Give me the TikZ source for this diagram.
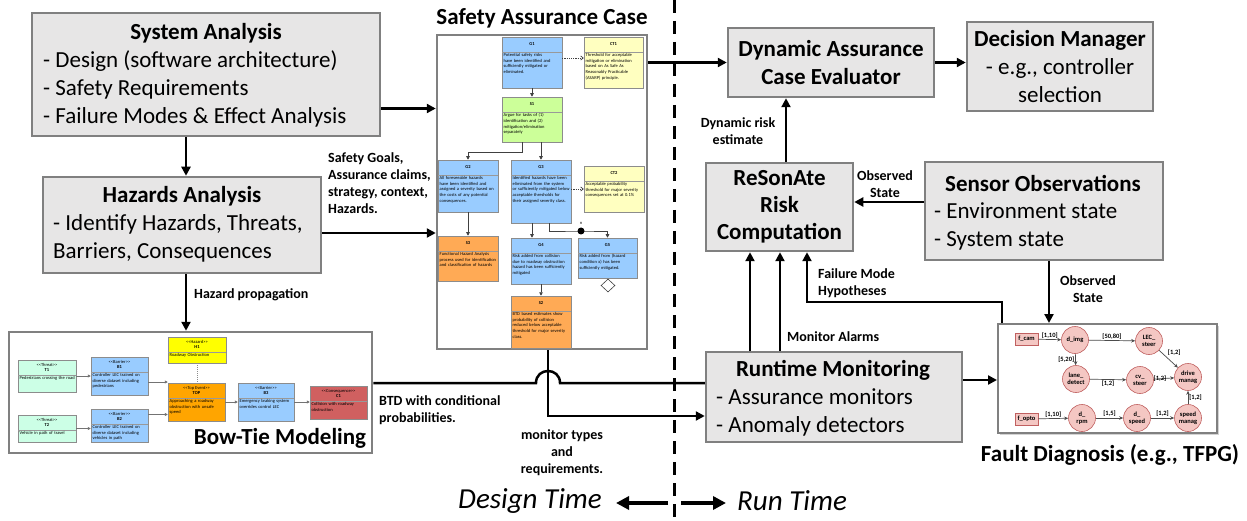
\documentclass[tikz,border=0pt]{standalone}
\usepackage{fontspec}
\setmainfont{Carlito}
\usetikzlibrary{arrows.meta,calc,shapes.geometric,shadows}
\definecolor{boxfill}{HTML}{E7E6E6}
\definecolor{boxline}{HTML}{808080}
\definecolor{gsnblue}{HTML}{99CCFF}
\definecolor{gsnyellow}{HTML}{FFFFC0}
\definecolor{gsngreen}{HTML}{CCFF99}
\definecolor{gsnorange}{HTML}{FFAA55}
\definecolor{btmint}{HTML}{CCFFE6}
\definecolor{btorange}{HTML}{FFA500}
\definecolor{btyellow}{HTML}{FFFF00}
\definecolor{btred}{HTML}{D06060}
\definecolor{tfpgfill}{HTML}{F4C7C3}
\definecolor{tfpgline}{HTML}{C06060}
\newcommand\myLL{<\kern0pt<}
\newcommand\myGG{>\kern0pt>}
% name, x1, y1, x2, y2, fill, header, text, header height
\newcommand\elbox[9]{%
  \node[el, fill=#6, minimum width={#4-#2}, minimum height={#5-#3}] (#1) at ({(#2+#4)/2},{(#3+#5)/2}) {};
  \node[elhead] (#1h) at ({(#2+#4)/2},{#3+#9/2}) {#7};
  \draw[elsep] (#2,{#3+#9}) -- (#4,{#3+#9});
  \node[eltext, text width={#4-#2-3}, anchor=north west] (#1t) at ({#2+1.5},{#3+#9+1}) {#8};
}
\begin{document}
\begin{tikzpicture}[x=1pt,y=-1pt,
  gbox/.style={draw=boxline, fill=boxfill, line width=2.5pt, inner sep=0pt},
  wbox/.style={draw=boxline, fill=white, line width=2.5pt, inner sep=0pt},
  big/.style={font=\fontsize{23}{28}\selectfont, inner sep=0pt},
  bigb/.style={font=\bfseries\fontsize{23}{28}\selectfont, inner sep=0pt},
  lab/.style={font=\bfseries\fontsize{14}{17}\selectfont, inner sep=0pt},
  arr/.style={line width=2.5pt, -{Triangle[length=9pt,width=9pt]}},
  plainline/.style={line width=2.5pt},
  bigarr/.style={line width=4pt, -{Triangle[length=13pt,width=13pt]}},
  el/.style={draw=black!45, line width=0.5pt, inner sep=0pt},
  elhead/.style={font=\fontsize{4.5}{5.5}\selectfont, inner sep=0pt, align=center},
  eltext/.style={font=\fontsize{4.5}{5.8}\selectfont, inner sep=0pt, align=left,
    execute at begin node={\hyphenpenalty=10000\exhyphenpenalty=10000}},
  elsep/.style={draw=black!40, line width=0.4pt},
  garr/.style={draw=black!75, line width=0.8pt, -{Triangle[length=3.5pt,width=3.5pt]}},
  gdash/.style={draw=black!75, line width=0.7pt, dash pattern=on 1.2pt off 1pt, -{Straight Barb[length=2.5pt,width=4pt]}},
  barr/.style={draw=black!55, line width=0.6pt, -{Triangle[length=3pt,width=3pt]}},
  tf/.style={circle, draw=tfpgline, fill=tfpgfill, line width=0.6pt, minimum size=27pt, inner sep=0pt, align=center, font=\bfseries\fontsize{6.5}{7}\selectfont},
  tfr/.style={rectangle, draw=tfpgline, fill=tfpgfill, line width=0.6pt, minimum width=23pt, minimum height=12pt, inner sep=0pt, font=\bfseries\fontsize{6.5}{7}\selectfont},
  tfa/.style={draw=black!70, line width=0.7pt, -{Stealth[length=4pt,width=3.5pt]}},
  tfl/.style={font=\bfseries\fontsize{6.5}{7}\selectfont, inner sep=1pt},
]
\useasboundingbox (0,0) rectangle (1247,521);

% design/run time separator
\draw[line width=3pt, dash pattern=on 13pt off 8pt] (674,0) -- (674,521);

% ---------- left column ----------
\node[gbox, minimum width=348, minimum height=123] (sa) at (206,74.5) {};
\node[bigb] (sat) at (206,33) {System Analysis};
\node[big, align=left, anchor=west] (sal) at (43,89) {- Design (software architecture)\\- Safety Requirements\\- Failure Modes \& Effect Analysis};

\node[gbox, minimum width=278, minimum height=96] (ha) at (182,225) {};
\node[bigb] (hat) at (182,196) {Hazards Analysis};
\node[big, align=left, anchor=west] (hal) at (53,238) {- Identify Hazards, Threats,\\Barriers, Consequences};

% ---------- bow-tie ----------
\node[wbox, minimum width=363, minimum height=121] (bt) at (190.5,392.5) {};
\node[bigb] (btl) at (280,438) {Bow-Tie Modeling};
\elbox{t1}{18}{360}{76}{392}{btmint}{\myLL Threat\myGG\\\textbf{T1}}{Pedestrians crossing the road}{15}
\elbox{t2}{18}{415}{76}{442}{btmint}{\myLL Threat\myGG\\\textbf{T2}}{Vehicle in path of travel}{15}
\elbox{b1}{91}{357}{148}{395}{gsnblue}{\myLL Barrier\myGG\\\textbf{B1}}{Controller LEC trained on diverse dataset including pedestrians}{15}
\elbox{b2}{91}{409}{148}{442}{gsnblue}{\myLL Barrier\myGG\\\textbf{B2}}{Controller LEC trained on diverse dataset including vehicles in path}{15}
\elbox{top}{168}{383}{225}{421}{btorange}{\myLL Top Event\myGG\\\textbf{TOP}}{Approaching a roadway obstruction with unsafe speed}{15}
\elbox{h1}{168}{337}{226}{363}{btyellow}{\myLL Hazard\myGG\\\textbf{H1}}{Roadway Obstruction}{15}
\elbox{b3}{238}{383}{294}{421}{gsnblue}{\myLL Barrier\myGG\\\textbf{B3}}{Emergency braking system overrides control LEC}{15}
\elbox{c1}{310}{386}{367}{419}{btred}{\myLL Consequence\myGG\\\textbf{C1}}{Collision with roadway obstruction}{15}
\draw[barr] (t1.east) -- (t1.east -| b1.west);
\draw[barr] ([yshift=-6pt]b1.east) -- ([yshift=-6pt]b1.east -| top.west);
\draw[barr] (t2.east) -- (t2.east -| b2.west);
\draw[barr] ([yshift=11pt]b2.east) -- ([yshift=11pt]b2.east -| top.west);
\draw[barr] (top.east) -- (top.east -| b3.west);
\draw[barr] (b3.east) -- (b3.east -| c1.west);
\draw[draw=black!45, line width=0.6pt, dash pattern=on 1pt off 1pt] (h1.south) -- (h1.south |- top.north);

% ---------- safety assurance case ----------
\node[wbox, minimum width=210, minimum height=314] (sac) at (542,192) {};
\node[bigb] (sact) at (542,18) {Safety Assurance Case};
\elbox{g1}{502}{37}{562}{88}{gsnblue}{\textbf{G1}}{Potential safety risks have been identified and sufficiently mitigated or eliminated.}{15}
\elbox{ct1}{584}{37}{643}{88}{gsnyellow}{\textbf{CT1}}{Threshold for acceptable mitigation or elimination based on As Safe As Reasonably Practicable (ASARP) principle.}{15}
\elbox{s1}{502}{97}{562}{142}{gsngreen}{\textbf{S1}}{Argue for tasks of (1) identification and (2) mitigation/\allowbreak elimination separately}{15}
\elbox{g2}{438}{160}{498}{212}{gsnblue}{\textbf{G2}}{All foreseeable hazards have been identified and assigned a severity based on the costs of any potential consequences.}{15}
\elbox{g3}{511}{160}{571}{223}{gsnblue}{\textbf{G3}}{Identified hazards have been eliminated from the system or sufficiently mitigated below acceptable thresholds for their assigned severity class.}{15}
\elbox{ct2}{584}{166}{644}{212}{gsnyellow}{\textbf{CT2}}{Acceptable probability threshold for major severity consequences set at 0.1\%}{15}
\elbox{s3}{438}{236}{498}{281}{gsnorange}{\textbf{S3}}{Functional Hazard Analysis process used for identification and classification of hazards}{15}
\elbox{g4}{511}{238}{571}{284}{gsnblue}{\textbf{G4}}{Risk added from collision due to roadway obstruction hazard has been sufficiently mitigated}{15}
\elbox{g5}{578}{238}{637}{278}{gsnblue}{\textbf{G5}}{Risk added from (hazard condition x) has been sufficiently mitigated.}{15}
\elbox{s2}{511}{296}{571}{348}{gsnorange}{\textbf{S2}}{BTD based estimates show probability of collision reduced below acceptable threshold for major severity class.}{15}
\node[diamond, draw=black!75, fill=white, line width=0.6pt, minimum width=14pt, minimum height=13pt, inner sep=0pt] (g5d) at (608,285.5) {};
\coordinate (sj) at (468,152);
\coordinate (jn) at (581,231);
\draw[gdash] ([yshift=4.5pt]g1.east) -- ([yshift=4.5pt]g1.east -| ct1.west);
\draw[garr] (g1.south) -- (s1.north);
\draw[garr] ([xshift=-10pt]s1.south) |- (sj) -- (g2.north);
\draw[garr] (s1.south -| g3.north) -- (g3.north);
\draw[garr] (g2.south) -- (s3.north);
\draw[gdash] (g3.east |- ct2.west) -- (ct2.west);
\draw[garr] ([xshift=-9pt]g3.south) -- ([xshift=-9pt]g3.south |- g4.north);
\draw[garr] ([xshift=8pt]g3.south) |- (jn) -| (g5.north);
\fill (jn) circle (3.5pt);
\node[font=\fontsize{4.5}{5}\selectfont, inner sep=0pt] (nlab) at (581,223) {n};
\draw[garr] (g4.south) -- (s2.north);

% ---------- labels on the left ----------
\node[lab, align=left, anchor=west] (lsg) at (328,183) {Safety Goals,\\Assurance claims,\\strategy, context,\\Hazards.};
\node[lab, anchor=west] (lhp) at (194,295) {Hazard propagation};
\node[lab, align=left, anchor=west] (lbtd) at (379,410) {BTD with conditional\\probabilities.};
\node[lab, align=center] (lmt) at (562,452.5) {monitor types\\and\\requirements.};

\coordinate (c1a) at ([yshift=-34pt]sa.east);
\coordinate (c2a) at ([yshift=-8pt]ha.east);
\coordinate (c3a) at ([xshift=4pt]ha.north);
\coordinate (c4a) at ([xshift=4pt]ha.south);
\draw[arr] (c1a) -- (c1a -| sac.west);
\draw[arr] (c2a) -- (c2a -| sac.west);
\draw[arr] (c3a |- sa.south) -- (c3a);
\draw[arr] (c4a) -- (c4a |- bt.north);

% ---------- right side ----------
\node[gbox, minimum width=206, minimum height=69, bigb, align=center] (dace) at (831,62.5) {Dynamic Assurance\\Case Evaluator};
\node[gbox, minimum width=186, minimum height=89, big, align=center] (dm) at (1060,66.5) {\textbf{Decision Manager}\\- e.g., controller\\selection};
\node[gbox, minimum width=147, minimum height=88, font=\bfseries\fontsize{23}{27}\selectfont, align=center] (rs) at (779.5,207) {ReSonAte\\Risk\\Computation};
\node[gbox, minimum width=238, minimum height=98] (so) at (1044,211) {};
\node[bigb] (sot) at (1043,183) {Sensor Observations};
\node[big, align=left, anchor=west] (sol) at (934,226) {- Environment state\\- System state};
\node[gbox, minimum width=256, minimum height=90] (rm) at (834,397) {};
\node[bigb] (rmt) at (833,370) {Runtime Monitoring};
\node[big, align=left, anchor=west] (rml) at (716,412) {- Assurance monitors\\- Anomaly detectors};

\node[draw=boxline, fill=white, line width=2pt, minimum width=219, minimum height=109, drop shadow={shadow xshift=2pt, shadow yshift=-2pt, opacity=0.35}] (fd) at (1107.5,378.5) {};
\node[bigb] (fdl) at (1110,455) {Fault Diagnosis (e.g., TFPG)};

% TFPG
\node[tfr] (fcam) at (1026.5,339) {f\_cam};
\node[tf] (dimg) at (1075,340) {d\_img};
\node[tf] (lec) at (1149,341) {LEC\_\\steer};
\node[tf] (lane) at (1076,379) {lane\_\\detect};
\node[tf] (cv) at (1140,380) {cv\_\\steer};
\node[tf] (drive) at (1188,377) {drive\\manag};
\node[tfr] (fopto) at (1026.5,419) {f\_opto};
\node[tf] (drpm) at (1082,418) {d\_\\rpm};
\node[tf] (dspd) at (1137,418) {d\_\\speed};
\node[tf] (smg) at (1188,418) {speed\\manag};
\draw[tfa] (fcam) -- node[tfl, above]{[1,10]} (dimg);
\draw[tfa] (dimg) -- node[tfl, above]{[50,80]} (lec);
\draw[tfa] (dimg) -- node[tfl, left]{[5,20]} (lane);
\draw[tfa] (lec) -- node[tfl, above right, pos=0.4]{[1,2]} (drive);
\draw[tfa] (lane) -- node[tfl, below]{[1,2]} (cv);
\draw[tfa] (cv) -- node[tfl, pos=0.3]{[1,2]} (drive);
\draw[tfa] (smg) -- node[tfl, right]{[1,2]} (drive);
\draw[tfa] (fopto) -- node[tfl, above]{[1,10]} (drpm);
\draw[tfa] (drpm) -- node[tfl, above]{[1,5]} (dspd);
\draw[tfa] (dspd) -- node[tfl, above]{[1,2]} (smg);

% right-side labels
\node[lab, align=center] (ldr) at (738,131.5) {Dynamic risk\\estimate};
\node[lab, align=center] (los1) at (885,184) {Observed\\State};
\node[lab, align=center] (los2) at (1088,289) {Observed\\State};
\node[lab, align=left, anchor=west] (lfm) at (818,283) {Failure Mode\\Hypotheses};
\node[lab, anchor=west] (lma) at (787,337) {Monitor Alarms};

% right-side connectors
\draw[arr] (sac.east |- dace.west) -- (dace.west);
\draw[arr] (dace.east) -- (dace.east -| dm.west);
\coordinate (c5a) at ([xshift=6.5pt]rs.north);
\draw[arr] (c5a) -- (c5a |- dace.south);
\coordinate (c6a) at ([yshift=9pt]so.west);
\draw[arr] (c6a) -- (c6a -| rs.east);
\coordinate (c7a) at ([xshift=5pt]so.south);
\draw[arr] (c7a) -- (c7a |- fd.north);
\coordinate (c8a) at ([xshift=-105.5pt]fd.north);
\coordinate (fmh) at (807,302);
\draw[arr] (c8a) |- (fmh) -- (fmh |- rs.south);
\coordinate (c9a) at ([xshift=-84pt]rm.north);
\coordinate (c10a) at ([xshift=-54pt]rm.north);
\draw[arr] (c9a) -- (c9a |- rs.south);
\draw[arr] (c10a) -- (c10a |- rs.south);
\coordinate (c11a) at ([yshift=17pt]rm.east);
\draw[arr] (c11a) -- (c11a -| fd.west);

% links from design time to runtime
\coordinate (hop) at (548,383);
\coordinate (mtc) at (548,416);
\draw[plainline] (bt.east |- hop) -- ([xshift=-12pt]hop) .. controls ([xshift=-12pt,yshift=16pt]hop) and ([xshift=12pt,yshift=16pt]hop) .. ([xshift=12pt]hop) -- (hop -| rm.west);
\draw[arr] (sac.south -| mtc) -- (mtc) -- (mtc -| rm.west);

% design time / run time
\node[font=\itshape\fontsize{29}{32}\selectfont, inner sep=0pt] (dtl) at (530,501) {Design Time};
\node[font=\itshape\fontsize{29}{32}\selectfont, inner sep=0pt, anchor=west] (rtl) at (737,501) {Run Time};
\coordinate (dtm) at (674,503);
\draw[bigarr] ([xshift=-6pt]dtm) -- ([xshift=-58pt]dtm);
\draw[bigarr] ([xshift=7pt]dtm) -- ([xshift=52pt]dtm);
\end{tikzpicture}
\end{document}
